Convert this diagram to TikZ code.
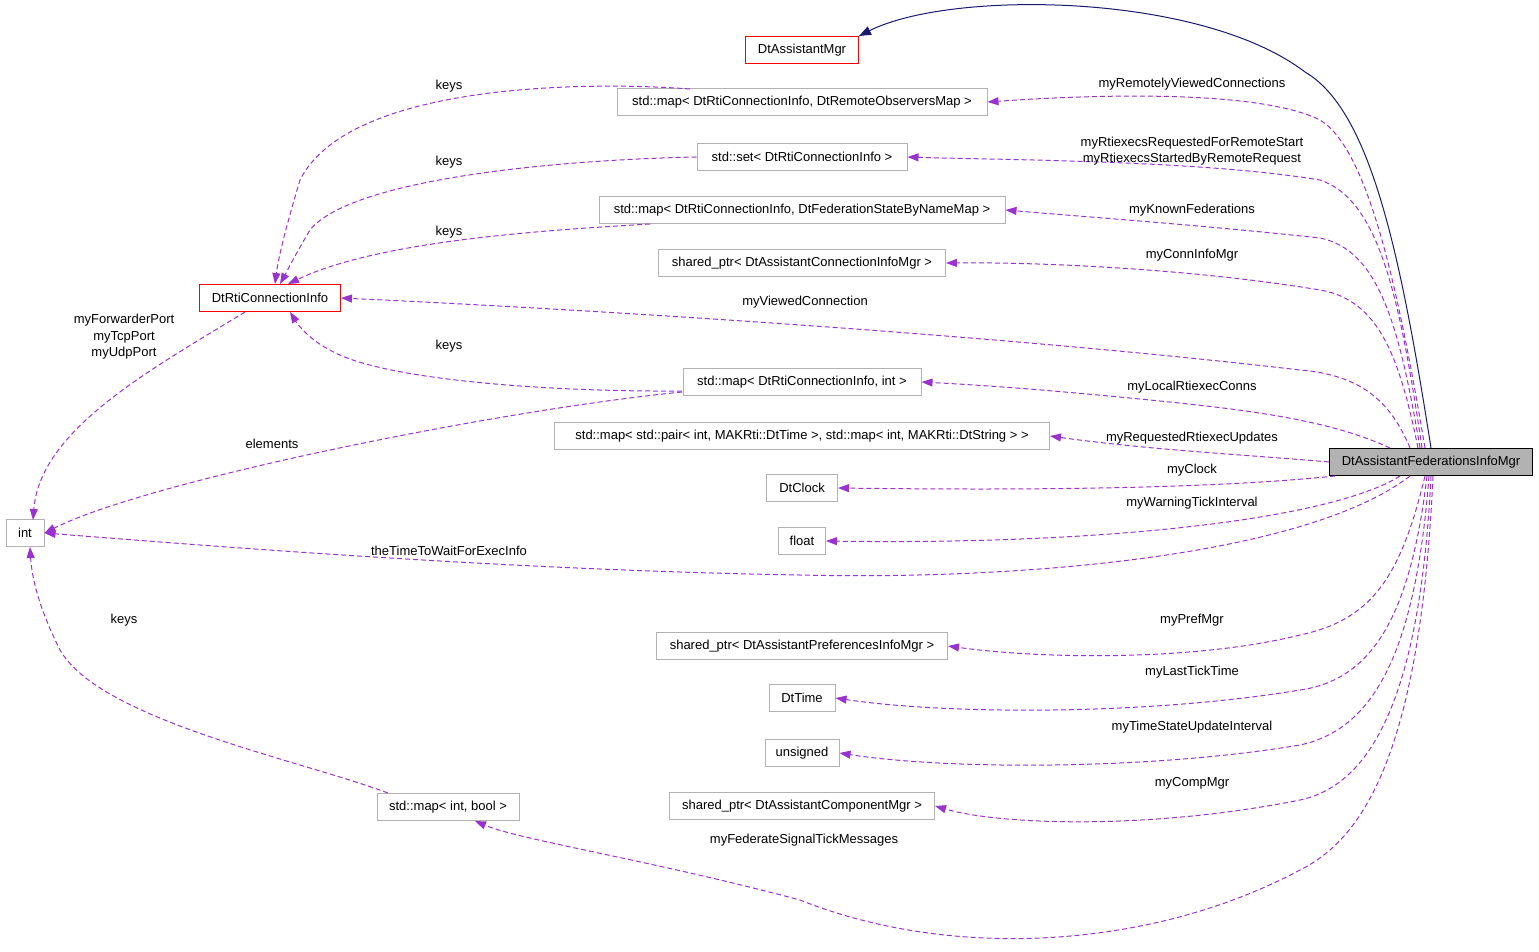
\documentclass[tikz,border=0pt]{standalone}
\usepackage{fontspec}
\setmainfont{Liberation Sans}
\usetikzlibrary{arrows.meta}
\definecolor{ed}{HTML}{9A32CD}
\definecolor{nv}{HTML}{191970}
\begin{document}
\begin{tikzpicture}[x=1pt,y=-1pt,line width=1pt,
  box/.style={draw=gray!60,fill=white,inner sep=0pt,minimum height=27pt,font=\fontsize{13}{15}\selectfont,anchor=center},
  rbox/.style={box,draw=red},
  lbl/.style={font=\fontsize{13}{16.5}\selectfont,align=center},
  dep/.style={draw=ed,dashed,dash pattern=on 5pt off 3pt,-{Triangle[length=11pt,width=8pt,fill=ed]}},
  inh/.style={draw=nv,-{Triangle[length=12pt,width=9pt,fill=nv]}}]
\useasboundingbox (0,0) rectangle (1539,951);
\node[rbox,minimum width=113pt] (am) at (802,50) {DtAssistantMgr};
\node[box,minimum width=370pt] (m1) at (802,102) {std::map< DtRtiConnectionInfo, DtRemoteObserversMap >};
\node[box,minimum width=210pt] (s1) at (802,157) {std::set< DtRtiConnectionInfo >};
\node[box,minimum width=406pt] (m2) at (802,210) {std::map< DtRtiConnectionInfo, DtFederationStateByNameMap >};
\node[box,minimum width=287pt] (p1) at (802,263) {shared\_ptr< DtAssistantConnectionInfoMgr >};
\node[rbox,minimum width=141pt] (ci) at (270,298) {DtRtiConnectionInfo};
\node[box,minimum width=238pt] (m3) at (802,382) {std::map< DtRtiConnectionInfo, int >};
\node[box,minimum width=495pt] (m4) at (802,436) {std::map< std::pair< int, MAKRti::DtTime >, std::map< int, MAKRti::DtString > >};
\node[box,minimum width=71pt] (ck) at (802,488) {DtClock};
\node[box,minimum width=47pt] (fl) at (802,541) {float};
\node[box,minimum width=38pt] (in) at (25,533) {int};
\node[box,minimum width=291pt] (p2) at (802,646) {shared\_ptr< DtAssistantPreferencesInfoMgr >};
\node[box,minimum width=66pt] (tm) at (802,698) {DtTime};
\node[box,minimum width=74pt] (un) at (802,753) {unsigned};
\node[box,minimum width=265pt] (p3) at (802,806) {shared\_ptr< DtAssistantComponentMgr >};
\node[box,minimum width=142pt] (m5) at (448,807) {std::map< int, bool >};
\node[box,draw=black,fill=gray!60,minimum width=203pt] (f) at (1431,462) {DtAssistantFederationsInfoMgr};
% inheritance
\draw[inh] (f.north) .. controls (1400,250) and (1370,110) .. (1305,72) .. controls (1200,-8) and (950,-10) .. (am.north east);
% dependencies from f
\draw[dep] (1425,448) .. controls (1400,300) and (1370,150) .. (1320,120) .. controls (1260,90) and (1100,94) .. (m1.east);
\draw[dep] (1422,448) .. controls (1400,300) and (1380,200) .. (1320,180) .. controls (1200,160) and (1000,160) .. (s1.east);
\draw[dep] (1420,448) .. controls (1400,330) and (1380,250) .. (1320,238) .. controls (1200,225) and (1100,218) .. (m2.east);
\draw[dep] (1418,448) .. controls (1400,360) and (1380,300) .. (1320,290) .. controls (1200,270) and (1050,262) .. (p1.east);
\draw[dep] (1410,448) .. controls (1390,400) and (1360,375) .. (1300,370) .. controls (1000,335) and (600,310) .. (ci.east);
\draw[dep] (1390,448) .. controls (1330,420) and (1250,410) .. (1150,400) .. controls (1050,390) and (980,385) .. (m3.east);
\draw[dep] (f.west) .. controls (1250,455) and (1150,450) .. (m4.east);
\draw[dep] (1335,476) .. controls (1200,490) and (1000,490) .. (ck.east);
\draw[dep] (1400,476) .. controls (1330,520) and (1100,545) .. (fl.east);
\draw[dep] (1410,476) .. controls (1300,560) and (1000,580) .. (800,575) .. controls (500,570) and (200,545) .. (in.east);
\draw[dep] (1425,476) .. controls (1400,580) and (1370,620) .. (1300,635) .. controls (1200,660) and (1050,660) .. (p2.east);
\draw[dep] (1427,476) .. controls (1410,620) and (1370,680) .. (1300,690) .. controls (1150,715) and (950,715) .. (tm.east);
\draw[dep] (1429,476) .. controls (1415,660) and (1370,730) .. (1300,745) .. controls (1150,770) and (950,770) .. (un.east);
\draw[dep] (1431,476) .. controls (1420,700) and (1370,785) .. (1300,800) .. controls (1150,830) and (1000,825) .. (p3.east);
\draw[dep] (1433,476) .. controls (1420,760) and (1360,840) .. (1300,870) .. controls (1150,950) and (950,960) .. (800,900) .. controls (650,860) and (520,840) .. (475,821);
% left side
\draw[dep] (690,89) .. controls (600,82) and (350,80) .. (300,180) .. controls (285,230) and (278,260) .. (275,284);
\draw[dep] (s1.west) .. controls (550,160) and (350,180) .. (310,230) .. controls (295,255) and (285,275) .. (280,284);
\draw[dep] (650,224) .. controls (550,230) and (380,240) .. (288,284);
\draw[dep] (682,391) .. controls (550,392) and (380,380) .. (330,350) .. controls (310,340) and (298,325) .. (290,312);
\draw[dep] (682,392) .. controls (500,410) and (150,480) .. (in.east);
\draw[dep] (245,312) .. controls (150,370) and (40,430) .. (33,520);
\draw[dep] (388,793) .. controls (300,760) and (100,720) .. (60,650) .. controls (40,610) and (32,580) .. (30,547);
% labels
\node[lbl] at (1192,84) {myRemotelyViewedConnections};
\node[lbl] at (1192,151) {myRtiexecsRequestedForRemoteStart\\myRtiexecsStartedByRemoteRequest};
\node[lbl] at (1192,210) {myKnownFederations};
\node[lbl] at (1192,255) {myConnInfoMgr};
\node[lbl] at (805,302) {myViewedConnection};
\node[lbl] at (1192,387) {myLocalRtiexecConns};
\node[lbl] at (1192,438) {myRequestedRtiexecUpdates};
\node[lbl] at (1192,470) {myClock};
\node[lbl] at (1192,503) {myWarningTickInterval};
\node[lbl] at (449,551) {theTimeToWaitForExecInfo};
\node[lbl] at (1192,620) {myPrefMgr};
\node[lbl] at (1192,672) {myLastTickTime};
\node[lbl] at (1192,727) {myTimeStateUpdateInterval};
\node[lbl] at (1192,783) {myCompMgr};
\node[lbl] at (804,840) {myFederateSignalTickMessages};
\node[lbl] at (449,86) {keys};
\node[lbl] at (449,162) {keys};
\node[lbl] at (449,232) {keys};
\node[lbl] at (449,346) {keys};
\node[lbl] at (272,444) {elements};
\node[lbl] at (124,337) {myForwarderPort\\myTcpPort\\myUdpPort};
\node[lbl] at (124,620) {keys};
\end{tikzpicture}
\end{document}
